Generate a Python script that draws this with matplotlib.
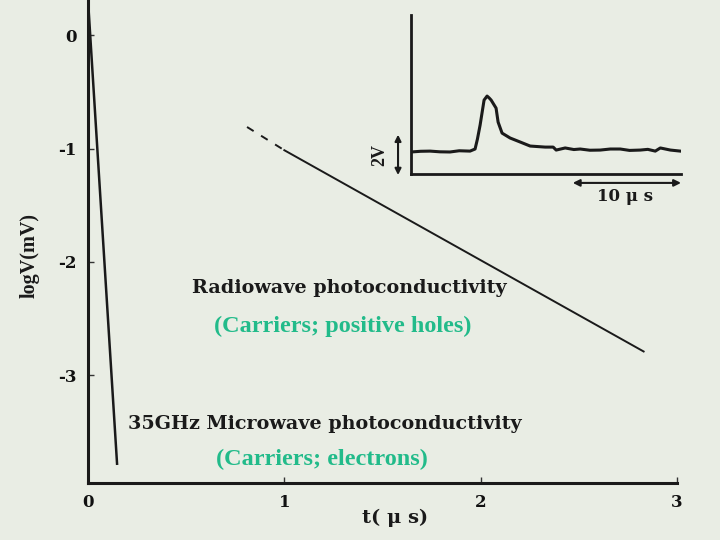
import matplotlib
matplotlib.use("Agg")
import matplotlib.pyplot as plt

# ---- data ----
x_ticks = [0, 1, 2, 3]
y_ticks = [0, -1, -2, -3]
y_tick_labels = ["0", "-1", "-2", "-3"]

micro_t = [0.0, 0.148]
micro_logv = [0.31, -3.78]

radio_dash_t = [0.81, 1.00]
radio_dash_logv = [-0.81, -1.015]
radio_t = [1.00, 2.83]
radio_logv = [-1.015, -2.79]

inset_t = [0.0, 0.9, 1.78, 2.7, 3.64, 4.5, 5.51, 5.98, 6.2, 6.45, 6.82, 7.10, 7.3, 7.48,
           7.94, 8.13, 8.50, 9.25, 10.19, 11.12, 12.52, 13.27, 13.55, 14.39, 15.2,
           15.79, 16.7, 17.66, 18.6, 19.53, 20.4, 21.40, 22.1, 22.80, 23.27, 24.21, 25.14]
inset_v = [1.26, 1.30, 1.31, 1.27, 1.26, 1.33, 1.31, 1.43, 2.0, 2.80, 4.23, 4.46, 4.35, 4.23,
           3.77, 2.97, 2.34, 2.06, 1.83, 1.60, 1.54, 1.54, 1.37, 1.49, 1.40,
           1.43, 1.36, 1.37, 1.43, 1.43, 1.35, 1.37, 1.41, 1.31, 1.49, 1.37, 1.31]

bg = "#e9ede4"
green = "#22bb8a"

fig = plt.figure(figsize=(7.2, 5.4), dpi=100, facecolor=bg)

# ---- main axes ----
ax = fig.add_axes([88/720, 1-483/540, (677-88)/720, 483/540])
ax.set_facecolor(bg)
ax.set_xlim(0, 3)
ax.set_ylim(-3.95, 0.31)
for s in ["top", "right"]:
    ax.spines[s].set_visible(False)
for s in ["left", "bottom"]:
    ax.spines[s].set_linewidth(2.2)
    ax.spines[s].set_color("#1a1a1a")

ax.set_xticks(x_ticks)
ax.set_xticklabels([str(v) for v in x_ticks])
ax.set_yticks(y_ticks)
ax.set_yticklabels(y_tick_labels)
ax.tick_params(direction="in", length=4, width=1, color="#333333", pad=8)
for lab in ax.get_xticklabels() + ax.get_yticklabels():
    lab.set_fontfamily("DejaVu Serif")
    lab.set_fontweight("bold")
    lab.set_fontsize(12)
    lab.set_color("#111111")

ax.plot(micro_t, micro_logv, color="#1a1a1a", lw=1.8)
ax.plot(radio_dash_t, radio_dash_logv, color="#1a1a1a", lw=1.4, ls=(0, (4, 4.5)))
ax.plot(radio_t, radio_logv, color="#1a1a1a", lw=1.4)

ax.text(0.53, -2.23, "Radiowave photoconductivity", fontfamily="DejaVu Serif",
        fontweight="bold", fontsize=13.8, color="#1a1a1a", va="center", ha="left")
ax.text(1.30, -2.57, "(Carriers; positive holes)", fontfamily="Liberation Serif",
        fontweight="bold", fontsize=17.5, color=green, va="center", ha="center")
ax.text(0.204, -3.43, "35GHz Microwave photoconductivity", fontfamily="DejaVu Serif",
        fontweight="bold", fontsize=13.8, color="#1a1a1a", va="center", ha="left")
ax.text(1.19, -3.74, "(Carriers; electrons)", fontfamily="Liberation Serif",
        fontweight="bold", fontsize=17.5, color=green, va="center", ha="center")

fig.text(395/720, 1-518/540, "t( \u03bc s)", fontfamily="DejaVu Serif", fontweight="bold",
         fontsize=14, ha="center", va="center", color="#1a1a1a")
fig.text(30/720, 1-255/540, "logV(mV)", fontfamily="Liberation Serif", fontweight="bold",
         fontsize=14.5, rotation=90, ha="center", va="center", color="#1a1a1a")

# ---- inset ----
ins = fig.add_axes([411/720, 1-174/540, (681-411)/720, (174-15)/540])
ins.set_facecolor("none")
ins.set_xlim(0, 25.2)
ins.set_ylim(0, 9.1)
for s in ["top", "right"]:
    ins.spines[s].set_visible(False)
for s in ["left", "bottom"]:
    ins.spines[s].set_linewidth(2.0)
    ins.spines[s].set_color("#1a1a1a")
ins.set_xticks([])
ins.set_yticks([])
ins.plot(inset_t, inset_v, color="#1a1a1a", lw=2.2)

ins.annotate("", xy=(15.1, -0.51), xytext=(25.2, -0.51),
             arrowprops=dict(arrowstyle="<|-|>", color="#1a1a1a", lw=1.5,
                             mutation_scale=10, shrinkA=0, shrinkB=0),
             annotation_clip=False)
ins.text(20.0, -1.31, "10 \u03bc s", fontfamily="DejaVu Serif", fontweight="bold",
         fontsize=12, ha="center", va="center", color="#1a1a1a", clip_on=False)
ins.annotate("", xy=(-1.21, -0.06), xytext=(-1.21, 2.25),
             arrowprops=dict(arrowstyle="<|-|>", color="#1a1a1a", lw=1.5,
                             mutation_scale=9, shrinkA=0, shrinkB=0),
             annotation_clip=False)
ins.text(-2.9, 1.09, "2V", fontfamily="Liberation Serif", fontweight="bold",
         fontsize=13, rotation=90, ha="center", va="center", color="#1a1a1a", clip_on=False)

fig.savefig("out.png", dpi=100, facecolor=bg)
